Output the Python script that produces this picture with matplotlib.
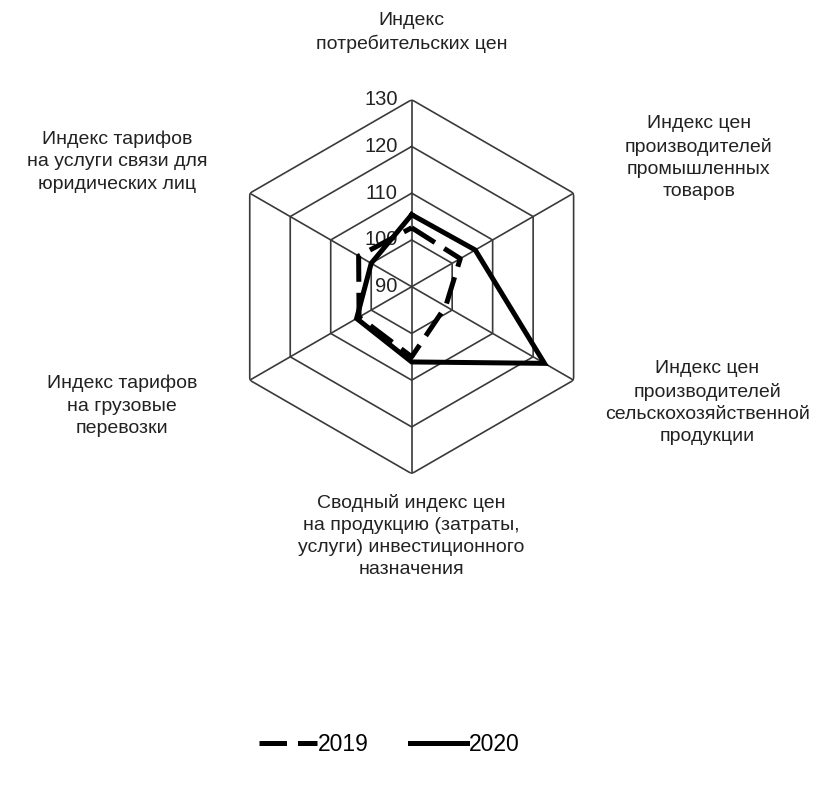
import numpy as np
import matplotlib
matplotlib.use("Agg")
import matplotlib.pyplot as plt
from matplotlib import transforms

plt.rcParams['font.family'] = ['Liberation Sans', 'DejaVu Sans']

# оси по часовой стрелке, начиная сверху
categories = [
    "Индекс\nпотребительских цен",
    "Индекс цен\nпроизводителей\nпромышленных\nтоваров",
    "Индекс цен\nпроизводителей\nсельскохозяйственной\nпродукции",
    "Сводный индекс цен\nна продукцию (затраты,\nуслуги) инвестиционного\nназначения",
    "Индекс тарифов\nна грузовые\nперевозки",
    "Индекс тарифов\nна услуги связи для\nюридических лиц",
]
values_2019 = [102.6, 102.0, 98.4, 105.0, 103.0, 103.1]
values_2020 = [105.4, 105.7, 122.8, 106.1, 103.6, 100.0]
rings = [90, 100, 110, 120, 130]

# где стоят подписи осей (доли фигуры)
label_pos = [(0.496, 0.959), (0.842, 0.799), (0.852, 0.487),
             (0.496, 0.317), (0.147, 0.483), (0.141, 0.794)]

grid_color = "#3a3a3a"

fig = plt.figure(figsize=(8.3, 7.85), dpi=100)
ax = fig.add_axes([0.2707, 0.3966, 0.4506, 0.4764], projection="polar")
ax.set_theta_zero_location("N")
ax.set_theta_direction(-1)
ax.set_ylim(rings[0], rings[-1])
ax.grid(False)
ax.spines["polar"].set_visible(False)
ax.set_xticks([])
ax.set_yticks([])
ax.patch.set_alpha(0)

n = len(categories)
angles = np.linspace(0, 2 * np.pi, n, endpoint=False)
closed = np.append(angles, angles[0])

# шестиугольная сетка
for r in rings[1:]:
    ax.plot(closed, [r] * (n + 1), color=grid_color, lw=1.2, zorder=1)
for a in angles:
    ax.plot([a, a], [rings[0], rings[-1]], color=grid_color, lw=1.2, zorder=1)

# подписи шкалы
off = transforms.offset_copy(ax.transData, fig=fig, x=-14, y=0, units="dots")
for r in rings:
    ax.text(0, r, str(r), transform=off, ha="right", va="center",
            fontsize=14.5, color="#222222", zorder=2)

ax.plot(closed, values_2019 + values_2019[:1], color="black", lw=3.6,
        dashes=(5.5, 2.2), solid_capstyle="butt", dash_capstyle="butt",
        label="2019", zorder=3)
ax.plot(closed, values_2020 + values_2020[:1], color="black", lw=3.6,
        solid_joinstyle="miter", label="2020", zorder=4)

for txt, (x, y) in zip(categories, label_pos):
    fig.text(x, y, txt, ha="center", va="center", fontsize=14,
             color="#222222", linespacing=1.4)

fig.legend(loc="center", bbox_to_anchor=(0.469, 0.051), ncol=2,
           frameon=False, fontsize=16.5, handlelength=2.5,
           handletextpad=0.05, columnspacing=1.8)

fig.savefig("out.png", dpi=100)
